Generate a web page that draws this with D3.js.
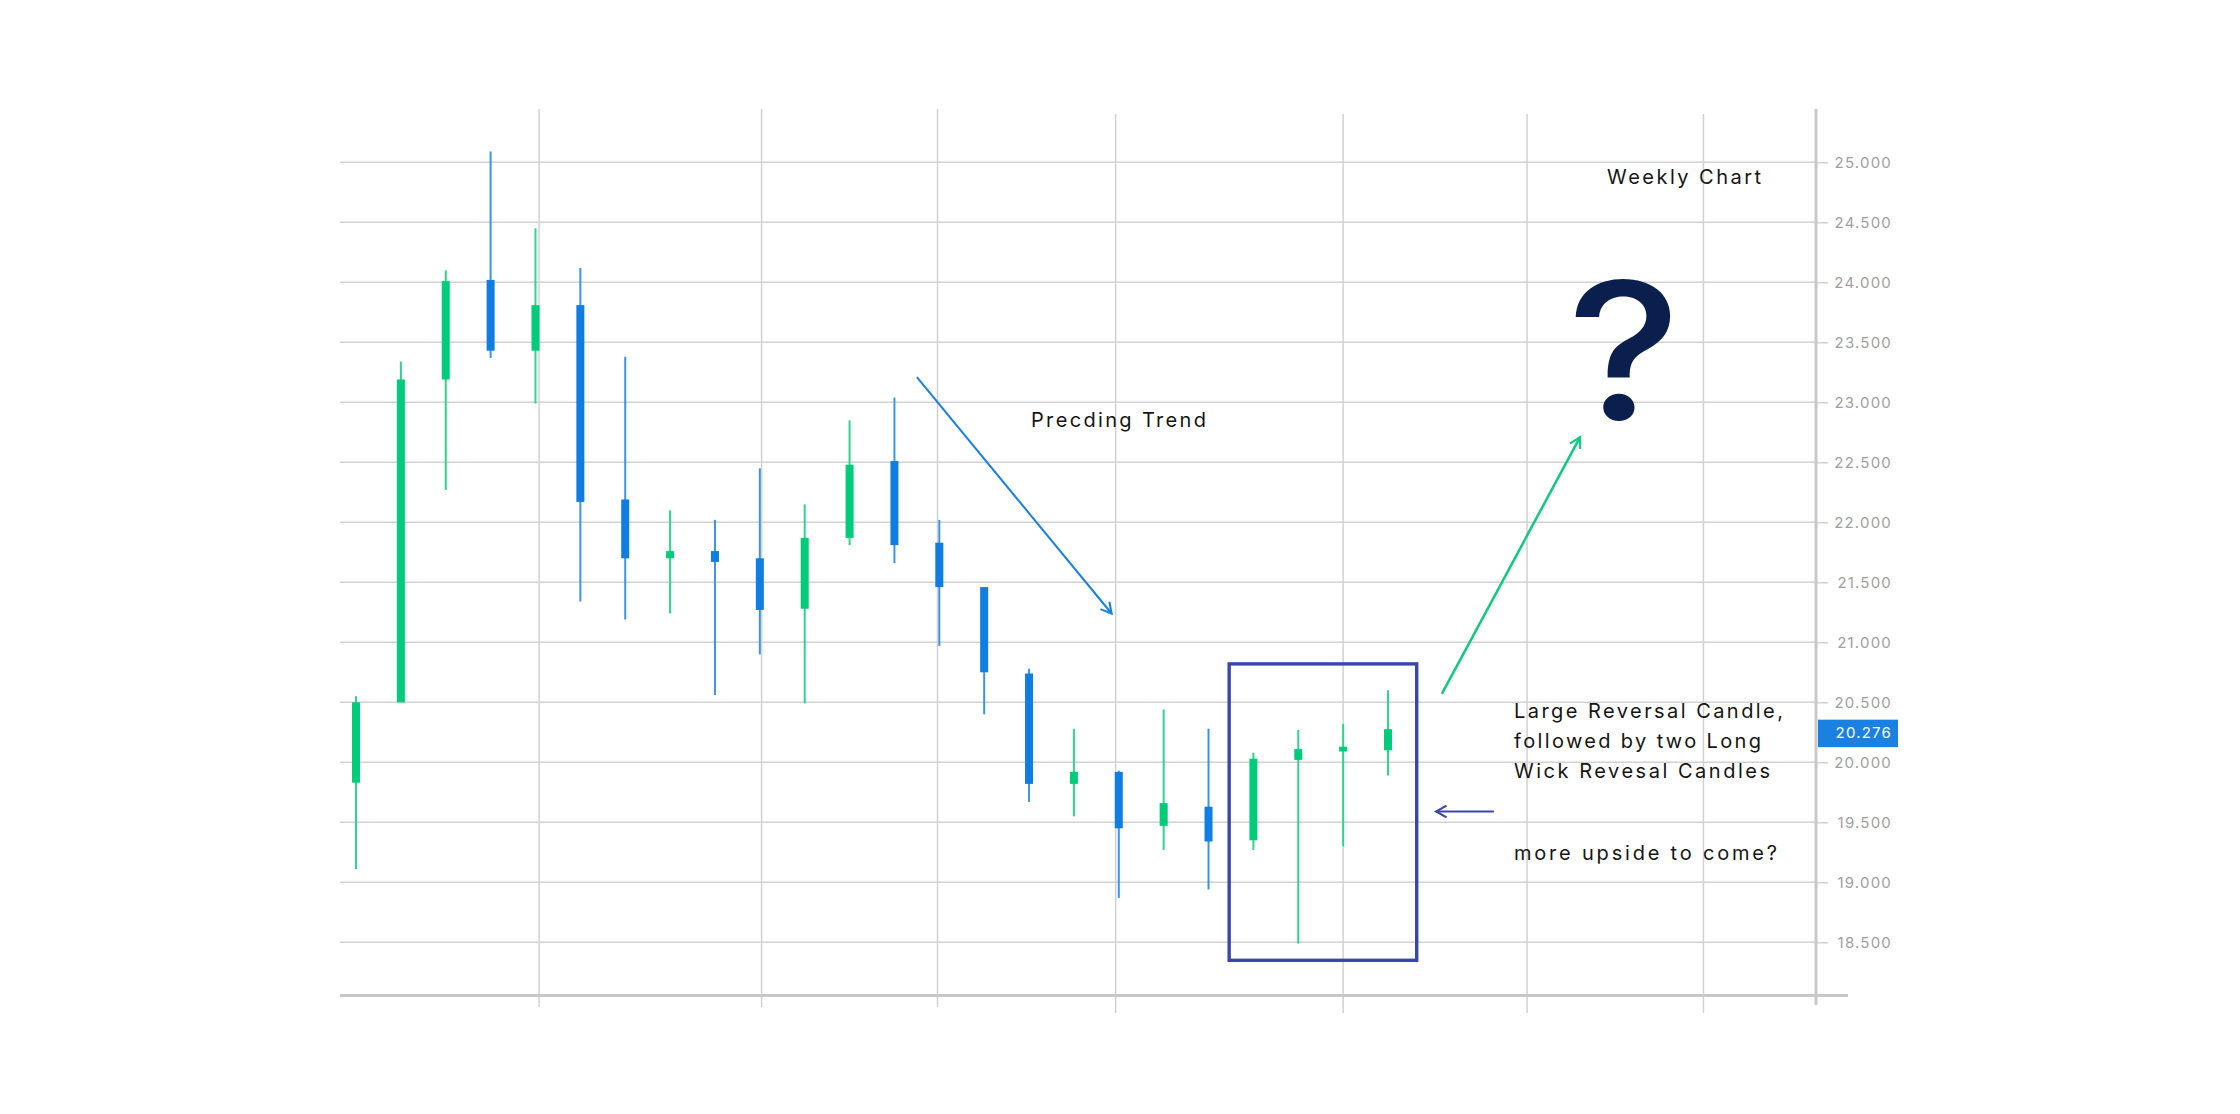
<!DOCTYPE html>
<head>
  <meta charset="utf-8">
  <title>Weekly Chart</title>
  <script src="https://d3js.org/d3.v7.min.js"></script>
  <style>
    body { margin: 0; background: #fff; }
    .axis path { display: none; }
    .axis line { stroke: #d2d2d2; stroke-width: 1.5; }
    .axis text {
      font-family: Inter, "Noto Sans", sans-serif;
      font-size: 15px;
      letter-spacing: 1.2px;
      fill: #a0a0a0;
    }
    .note {
      font-family: Inter, "Noto Sans", sans-serif;
      font-size: 20px;
      fill: #151515;
    }
  </style>
</head>
<body>
<script type="text/javascript">

  // svg size
  var w = 2240;
  var h = 1114;

  // weekly candles, oldest first
  var opens  = [19.83, 20.50, 23.19, 24.02, 23.43, 23.81, 22.19, 21.70, 21.76, 21.70, 21.28, 21.87,
                22.51, 21.83, 21.46, 20.74, 19.82, 19.92, 19.47, 19.63, 19.35, 20.02, 20.09, 20.10];
  var highs  = [20.55, 23.34, 24.10, 25.09, 24.45, 24.12, 23.38, 22.10, 22.02, 22.45, 22.15, 22.85,
                23.04, 22.02, 21.46, 20.78, 20.28, 19.93, 20.44, 20.28, 20.08, 20.27, 20.32, 20.60];
  var lows   = [19.11, 20.50, 22.27, 23.37, 22.99, 21.34, 21.19, 21.24, 20.56, 20.90, 20.49, 21.81,
                21.66, 20.97, 20.40, 19.67, 19.55, 18.87, 19.27, 18.94, 19.27, 18.49, 19.30, 19.89];
  var closes = [20.50, 23.19, 24.01, 23.43, 23.81, 22.17, 21.70, 21.76, 21.67, 21.27, 21.87, 22.48,
                21.81, 21.46, 20.75, 19.82, 19.92, 19.45, 19.66, 19.34, 20.03, 20.11, 20.13, 20.276];

  // month separators (in week index units) and price ticks
  var monthLines = [4.08, 9.04, 12.96, 16.93, 22.0, 26.1, 30.03];
  var priceTicks = [18.5, 19, 19.5, 20, 20.5, 21, 21.5, 22, 22.5, 23, 23.5, 24, 24.5, 25];

  var candles = opens.map(function(o, i) {
    return { i: i, open: o, high: highs[i], low: lows[i], close: closes[i] };
  });

  var green = "#00cc7a";
  var blue = "#0f7de2";
  var navy = "#3a47a8";

  var svg = d3.select("body")
    .append("svg")
    .attr("width", w)
    .attr("height", h);

  var xScale = d3.scaleLinear()
    .domain([0, 23])
    .range([356, 1388]);

  var yScale = d3.scaleLinear()
    .domain([18.5, 25])
    .range([942.3, 162.3]);

  var axisX = 1816;

  // horizontal grid
  svg.append("g")
    .selectAll("line")
    .data(priceTicks)
    .enter()
    .append("line")
    .attr("x1", 340)
    .attr("x2", axisX)
    .attr("y1", function(d) { return yScale(d); })
    .attr("y2", function(d) { return yScale(d); })
    .attr("stroke", "#d2d2d2")
    .attr("stroke-width", 1.5);

  // vertical grid (month lines)
  svg.append("g")
    .selectAll("line")
    .data(monthLines)
    .enter()
    .append("line")
    .attr("x1", function(d) { return xScale(d); })
    .attr("x2", function(d) { return xScale(d); })
    .attr("y1", function(d, i) { return i < 3 ? 109 : 114; })
    .attr("y2", function(d, i) { return i < 3 ? 1007 : 1013; })
    .attr("stroke", "#d2d2d2")
    .attr("stroke-width", 1.5);

  // price axis on the right
  var yAxis = d3.axisRight(yScale)
    .tickValues(priceTicks)
    .tickSize(12)
    .tickPadding(63)
    .tickFormat(d3.format(".3f"));

  svg.append("g")
    .attr("class", "axis")
    .attr("transform", "translate(" + axisX + ",0)")
    .call(yAxis)
    .selectAll("text")
    .attr("text-anchor", "end")
    .attr("x", 76);

  // frame lines
  svg.append("line")
    .attr("x1", axisX).attr("x2", axisX)
    .attr("y1", 109).attr("y2", 1005)
    .attr("stroke", "#c8c8c8").attr("stroke-width", 3);

  svg.append("line")
    .attr("x1", 340).attr("x2", 1848)
    .attr("y1", 995.5).attr("y2", 995.5)
    .attr("stroke", "#c8c8c8").attr("stroke-width", 3);

  // candles
  var c = svg.append("g")
    .selectAll("g")
    .data(candles)
    .enter()
    .append("g");

  c.append("line")
    .attr("x1", function(d) { return xScale(d.i); })
    .attr("x2", function(d) { return xScale(d.i); })
    .attr("y1", function(d) { return yScale(d.high); })
    .attr("y2", function(d) { return yScale(d.low); })
    .attr("stroke", function(d) { return d.close >= d.open ? "#2fd392" : "#3b94ea"; })
    .attr("stroke-width", 2);

  c.append("rect")
    .attr("x", function(d) { return xScale(d.i) - 4; })
    .attr("width", 8)
    .attr("y", function(d) { return yScale(Math.max(d.open, d.close)); })
    .attr("height", function(d) {
      return Math.max(3, Math.abs(yScale(d.open) - yScale(d.close)));
    })
    .attr("fill", function(d) { return d.close >= d.open ? green : blue; });

  // last price label
  var last = closes[closes.length - 1];
  svg.append("rect")
    .attr("x", 1818)
    .attr("y", yScale(last) - 9.5)
    .attr("width", 80)
    .attr("height", 27.5)
    .attr("fill", "#1a80e2");

  svg.append("text")
    .attr("x", 1892)
    .attr("y", yScale(last) + 4)
    .attr("dy", "0.35em")
    .attr("text-anchor", "end")
    .attr("font-family", "Inter, 'Noto Sans', sans-serif")
    .attr("font-size", "15px")
    .attr("letter-spacing", "1.2px")
    .attr("fill", "#fff")
    .text(d3.format(".3f")(last));

  // arrow heads
  var defs = svg.append("defs");
  [["head-blue", "#1a80e2"], ["head-green", "#10c97f"], ["head-navy", navy]].forEach(function(m) {
    defs.append("marker")
      .attr("id", m[0])
      .attr("viewBox", "0 0 12 12")
      .attr("refX", 10).attr("refY", 6)
      .attr("markerWidth", 14).attr("markerHeight", 14)
      .attr("markerUnits", "userSpaceOnUse")
      .attr("orient", "auto")
      .append("path")
      .attr("d", "M1,1 L10,6 L1,11")
      .attr("fill", "none")
      .attr("stroke", m[1])
      .attr("stroke-width", 1.8);
  });

  // preceding trend arrow
  svg.append("line")
    .attr("x1", xScale(12.5)).attr("y1", yScale(23.21))
    .attr("x2", xScale(16.84)).attr("y2", yScale(21.24))
    .attr("stroke", "#1a80e2").attr("stroke-width", 2)
    .attr("marker-end", "url(#head-blue)");

  // upside arrow
  svg.append("line")
    .attr("x1", xScale(24.2)).attr("y1", yScale(20.57))
    .attr("x2", xScale(27.28)).attr("y2", yScale(22.71))
    .attr("stroke", "#10c97f").attr("stroke-width", 2.5)
    .attr("marker-end", "url(#head-green)");

  // pointer to box
  svg.append("line")
    .attr("x1", xScale(25.36)).attr("y1", yScale(19.59))
    .attr("x2", xScale(24.07)).attr("y2", yScale(19.59))
    .attr("stroke", navy).attr("stroke-width", 2)
    .attr("marker-end", "url(#head-navy)");

  // reversal box
  svg.append("rect")
    .attr("x", xScale(19.46))
    .attr("y", yScale(20.82))
    .attr("width", xScale(23.64) - xScale(19.46))
    .attr("height", yScale(18.35) - yScale(20.82))
    .attr("fill", "none")
    .attr("stroke", navy)
    .attr("stroke-width", 3.4);

  // notes
  var notes = [
    ["Weekly Chart", 1607, 184, 154],
    ["Precding Trend", 1031, 427, 175],
    ["Large Reversal Candle,", 1514, 718, 269],
    ["followed by two Long", 1514, 748, 247],
    ["Wick Revesal Candles", 1514, 778, 256],
    ["more upside to come?", 1514, 860, 263]
  ];

  svg.selectAll("text.note")
    .data(notes)
    .enter()
    .append("text")
    .attr("class", "note")
    .attr("x", function(d) { return d[1]; })
    .attr("y", function(d) { return d[2]; })
    .attr("textLength", function(d) { return d[3]; })
    .attr("lengthAdjust", "spacing")
    .text(function(d) { return d[0]; });

  // big question mark, stretched a little to match the round geometric glyph
  svg.append("text")
    .attr("transform", "translate(1624,420) scale(1.12,1)")
    .attr("text-anchor", "middle")
    .attr("font-family", "Inter, 'Noto Sans', sans-serif")
    .attr("font-weight", 500)
    .attr("font-size", "192px")
    .attr("fill", "#0b1f4e")
    .text("?");

</script>
</body>
</html>
